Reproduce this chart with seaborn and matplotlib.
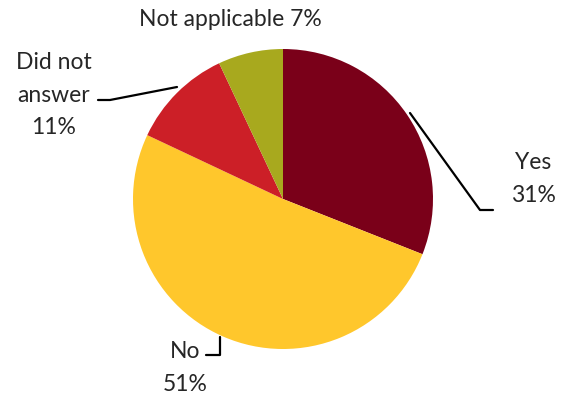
import matplotlib
matplotlib.use("Agg")
import matplotlib.pyplot as plt
import seaborn as sns

sns.set_theme(style="white")
plt.rcParams['font.family'] = ['Lato', 'DejaVu Sans']

categories = ["Yes", "No", "Did not answer", "Not applicable"]
values = [31, 51, 11, 7]
label_texts = ["Yes\n31%", "No\n51%", "Did not\nanswer\n11%", "Not applicable 7%"]
colors = ["#7A0019", "#FFC72C", "#CC1F27", "#A8A91E"]

W, H = 566, 397
fig = plt.figure(figsize=(W / 100, H / 100), dpi=100)
ax = fig.add_axes([0, 0, 1, 1])

def P(x, y):
    return (x, H - y)

cx, cy = P(283, 199)
ax.pie(values, colors=colors, startangle=90, counterclock=False,
       center=(cx, cy), radius=150, frame=True,
       wedgeprops=dict(linewidth=0))
ax.set_xlim(0, W)
ax.set_ylim(0, H)
ax.set_aspect("equal")
ax.axis("off")

fs = 16.5
ls = 1.7
tc = "#262626"
# Yes
ax.plot(*zip(P(410, 113), P(480, 210), P(493, 210)), color="black", lw=1.6)
ax.text(*P(533, 179), label_texts[0], ha="center", va="center", fontsize=fs, color=tc, linespacing=ls)
# No
ax.plot(*zip(P(220, 337), P(220, 355), P(206, 355)), color="black", lw=1.6)
ax.text(*P(185, 368), label_texts[1], ha="center", va="center", fontsize=fs, color=tc, linespacing=ls)
# Did not answer
ax.plot(*zip(P(177, 87), P(110, 100), P(98, 100)), color="black", lw=1.6)
ax.text(*P(54, 95), label_texts[2], ha="center", va="center", fontsize=fs, color=tc, linespacing=ls)
# Not applicable
ax.text(*P(230, 20), label_texts[3], ha="center", va="center", fontsize=fs, color=tc)

fig.savefig("out.png", dpi=100, facecolor="white")
